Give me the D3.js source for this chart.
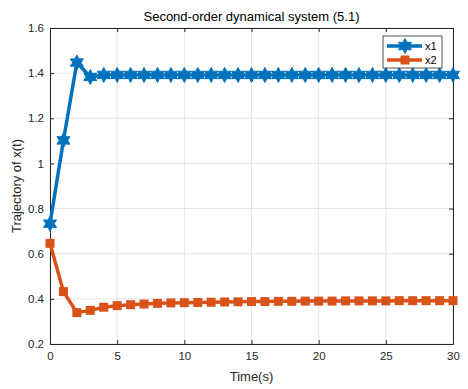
<!DOCTYPE html>
<html>
<head>
<meta charset="utf-8">
<script src="https://cdn.jsdelivr.net/npm/d3@7"></script>
<style>
  body { margin: 0; background: #fff; }
  text { font-family: "Liberation Sans", Arial, sans-serif; }
</style>
</head>
<body>
<div id="chart"></div>
<script>
// data
var times = d3.range(0, 31);
var x1 = [0.733, 1.102, 1.447, 1.383, 1.392, 1.392, 1.392, 1.392, 1.392, 1.392,
          1.392, 1.392, 1.392, 1.392, 1.392, 1.392, 1.392, 1.392, 1.392, 1.392,
          1.392, 1.392, 1.392, 1.392, 1.392, 1.392, 1.392, 1.392, 1.392, 1.392, 1.392];
var x2 = [0.646, 0.432, 0.339, 0.349, 0.363, 0.370, 0.374, 0.377, 0.380, 0.382,
          0.383, 0.384, 0.385, 0.386, 0.387, 0.388, 0.388, 0.389, 0.389, 0.390,
          0.390, 0.390, 0.391, 0.391, 0.391, 0.391, 0.392, 0.392, 0.392, 0.392, 0.392];
var xTicks = [0, 5, 10, 15, 20, 25, 30];
var yTicks = [0.2, 0.4, 0.6, 0.8, 1, 1.2, 1.4, 1.6];
var seriesNames = ["x1", "x2"];
var colors = ["#0072BD", "#D95319"];

var W = 468, H = 389;
var margin = {top: 28, right: 15, bottom: 45, left: 50},
    width = W - margin.left - margin.right,
    height = H - margin.top - margin.bottom;

var svg = d3.select("#chart")
    .append("svg")
    .attr("width", W)
    .attr("height", H)
    .append("g")
    .attr("transform", "translate(" + margin.left + "," + margin.top + ")");

var x = d3.scaleLinear().domain([0, 30]).range([0, width]);
var y = d3.scaleLinear().domain([0.2, 1.6]).range([height, 0]);

// grid
svg.selectAll(".vgrid").data(xTicks).enter().append("line")
    .attr("x1", function(d) { return x(d); }).attr("x2", function(d) { return x(d); })
    .attr("y1", 0).attr("y2", height)
    .attr("stroke", "#e6e6e6").attr("stroke-width", 1);
svg.selectAll(".hgrid").data(yTicks).enter().append("line")
    .attr("y1", function(d) { return y(d); }).attr("y2", function(d) { return y(d); })
    .attr("x1", 0).attr("x2", width)
    .attr("stroke", "#e6e6e6").attr("stroke-width", 1);

// axes
svg.append("g")
    .attr("transform", "translate(0," + height + ")")
    .call(d3.axisBottom(x).tickValues(xTicks).tickSize(-4).tickPadding(8).tickSizeOuter(0));
svg.append("g")
    .call(d3.axisLeft(y).tickValues(yTicks).tickSize(-4).tickPadding(6).tickSizeOuter(0)
        .tickFormat(function(d) { return d === 1 ? "1" : d3.format(".1f")(d); }));
svg.append("g")
    .call(d3.axisTop(x).tickValues(xTicks).tickSize(-4).tickFormat("").tickSizeOuter(0));
svg.append("g")
    .attr("transform", "translate(" + width + ",0)")
    .call(d3.axisRight(y).tickValues(yTicks).tickSize(-4).tickFormat("").tickSizeOuter(0));

svg.selectAll(".domain, .tick line").attr("stroke", "#262626");
svg.selectAll(".tick text").attr("fill", "#262626").style("font-size", "11.5px");

// hexagram marker
function hexagram(r) {
  var pts = [];
  for (var i = 0; i < 12; i++) {
    var a = -Math.PI / 2 + i * Math.PI / 6;
    var rr = i % 2 === 0 ? r : r * 0.55;
    pts.push([rr * Math.cos(a), rr * Math.sin(a)]);
  }
  return "M" + pts.map(function(p) { return p[0].toFixed(2) + "," + p[1].toFixed(2); }).join("L") + "Z";
}

var seriesData = [x1, x2];
var line = d3.line()
    .x(function(d, i) { return x(times[i]); })
    .y(function(d) { return y(d); });

seriesData.forEach(function(vals, s) {
  svg.append("path")
      .datum(vals)
      .attr("fill", "none")
      .attr("stroke", colors[s])
      .attr("stroke-width", 3.5)
      .attr("stroke-linejoin", "round")
      .attr("d", line);

  var g = svg.selectAll(".m" + s).data(vals).enter().append("g")
      .attr("transform", function(d, i) { return "translate(" + x(times[i]) + "," + y(d) + ")"; });
  if (s === 0) {
    g.append("path").attr("d", hexagram(7.5)).attr("fill", colors[s]).attr("stroke", colors[s]).attr("stroke-width", 1);
  } else {
    g.append("rect").attr("x", -4.5).attr("y", -4.5).attr("width", 9).attr("height", 9)
        .attr("fill", colors[s]);
  }
});

// legend
var lg = svg.append("g").attr("transform", "translate(" + (383 - margin.left) + "," + (36 - margin.top) + ")");
lg.append("rect").attr("width", 59).attr("height", 32)
    .attr("fill", "#fff").attr("stroke", "#262626").attr("stroke-width", 0.8);
seriesNames.forEach(function(n, s) {
  var yy = 10 + s * 14;
  lg.append("line").attr("x1", 4).attr("x2", 39).attr("y1", yy).attr("y2", yy)
      .attr("stroke", colors[s]).attr("stroke-width", 3.5);
  if (s === 0) {
    lg.append("path").attr("d", hexagram(7.5)).attr("transform", "translate(22," + yy + ")")
        .attr("fill", colors[s]).attr("stroke", colors[s]);
  } else {
    lg.append("rect").attr("x", 17.5).attr("y", yy - 4.5).attr("width", 9).attr("height", 9)
        .attr("fill", colors[s]);
  }
  lg.append("text").attr("x", 42).attr("y", yy + 4).text(n)
      .style("font-size", "11px").attr("fill", "#000");
});

// labels
svg.append("text")
    .attr("x", width / 2).attr("y", -7)
    .attr("text-anchor", "middle")
    .style("font-size", "13px").attr("fill", "#000")
    .text("Second-order dynamical system (5.1)");
svg.append("text")
    .attr("x", width / 2).attr("y", height + 37)
    .attr("text-anchor", "middle")
    .style("font-size", "13px").attr("fill", "#262626")
    .text("Time(s)");
svg.append("text")
    .attr("transform", "translate(" + (-29) + "," + (height / 2) + ") rotate(-90)")
    .attr("text-anchor", "middle")
    .style("font-size", "13px").attr("fill", "#262626")
    .text("Trajectory of x(t)");
</script>
</body>
</html>
